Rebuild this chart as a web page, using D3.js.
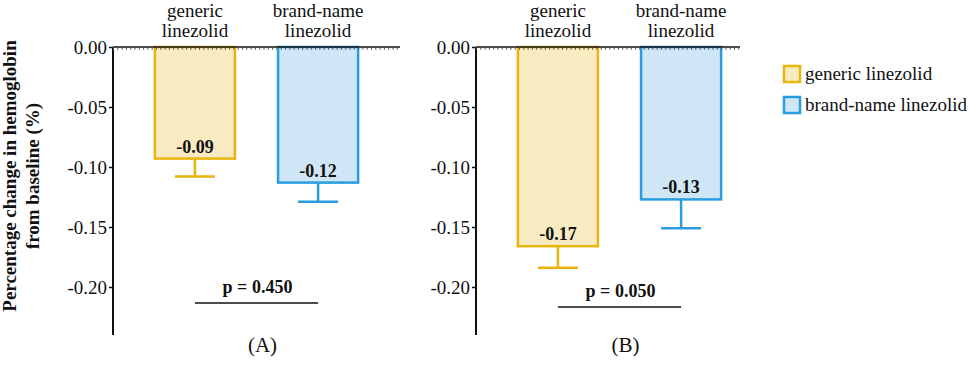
<!DOCTYPE html>
<html>
<head>
<meta charset="utf-8">
<script src="https://cdn.jsdelivr.net/npm/d3@7"></script>
<style>
    body { margin: 0; background: #fff; }
    svg { display: block; font-family: "Liberation Serif", "DejaVu Serif", serif; }
</style>
</head>
<body>
<div id="chart"></div>
<script>
// Data
const categories = ["generic linezolid", "brand-name linezolid"]
const catLines = [["generic", "linezolid"], ["brand-name", "linezolid"]]
const panels = ["(A)", "(B)"]
const meanA = [-0.093, -0.113]
const errA = [-0.108, -0.129]
const labelsA = ["-0.09", "-0.12"]
const meanB = [-0.166, -0.127]
const errB = [-0.184, -0.151]
const labelsB = ["-0.17", "-0.13"]
const pValues = ["p = 0.450", "p = 0.050"]
const yTicks = [0, -0.05, -0.10, -0.15, -0.20]

const strokes = ["#e8b40e", "#2a9de0"]
const fills = ["#f8ebc2", "#cfe6f6"]

// dimensions
const W = 969, H = 367
const topY = 47
const svg = d3.select("#chart").append("svg")
    .attr("width", W).attr("height", H)

const y = d3.scaleLinear().domain([0, -0.24]).range([topY, topY + 288])
const x = d3.scaleBand().domain(categories).range([0, 287])
    .paddingInner(0.35).paddingOuter(0.34)

function drawPanel(left, zeroLen, means, errs, labels, pText, pY, name) {
    const g = svg.append("g").attr("transform", "translate(" + left + ",0)")

    // bars
    categories.forEach(function(c, i) {
        const x0 = x(c), bw = x.bandwidth(), cx = x0 + bw / 2
        g.append("rect")
            .attr("x", x0).attr("y", y(0))
            .attr("width", bw).attr("height", y(means[i]) - y(0))
            .attr("fill", fills[i]).attr("stroke", strokes[i]).attr("stroke-width", 2.5)
        // error bar
        g.append("line")
            .attr("x1", cx).attr("x2", cx)
            .attr("y1", y(means[i])).attr("y2", y(errs[i]))
            .attr("stroke", strokes[i]).attr("stroke-width", 2.5)
        g.append("line")
            .attr("x1", cx - bw / 4).attr("x2", cx + bw / 4)
            .attr("y1", y(errs[i])).attr("y2", y(errs[i]))
            .attr("stroke", strokes[i]).attr("stroke-width", 2.5)
        // value label
        g.append("text")
            .attr("x", cx).attr("y", y(means[i]) - 6)
            .attr("text-anchor", "middle")
            .attr("font-size", 18).attr("font-weight", "bold")
            .attr("fill", "#111")
            .text(labels[i])
        // category label
        catLines[i].forEach(function(t, j) {
            g.append("text")
                .attr("x", cx).attr("y", 17 + j * 20)
                .attr("text-anchor", "middle")
                .attr("font-size", 19).attr("fill", "#111")
                .text(t)
        })
    })

    // y axis
    const ax = g.append("g")
        .call(d3.axisLeft(y).tickValues(yTicks).tickSize(4).tickPadding(2)
            .tickFormat(d3.format(".2f")))
    ax.select(".domain").attr("stroke", "#111").attr("stroke-width", 2)
        .attr("d", "M0," + y(0) + "V" + y(-0.24))
    ax.selectAll(".tick line").attr("stroke", "#111").attr("stroke-width", 1.5)
    ax.selectAll(".tick text")
        .attr("font-family", "Liberation Serif").attr("font-size", 19).attr("fill", "#111")
        .text(function(d) { return d3.format(".2f")(d).replace("−", "-") })

    // zero line with little ticks
    g.append("line")
        .attr("x1", 0).attr("x2", zeroLen).attr("y1", y(0)).attr("y2", y(0))
        .attr("stroke", "#111").attr("stroke-width", 1.5)
    g.append("line")
        .attr("x1", 0).attr("x2", zeroLen).attr("y1", y(0) + 1.5).attr("y2", y(0) + 1.5)
        .attr("stroke", "#555").attr("stroke-width", 2.5)
        .attr("stroke-dasharray", "1,3.3")

    // p value
    const x1 = x(categories[0]) + x.bandwidth() / 2
    const x2 = x(categories[1]) + x.bandwidth() / 2
    g.append("line")
        .attr("x1", x1).attr("x2", x2).attr("y1", pY).attr("y2", pY)
        .attr("stroke", "#111").attr("stroke-width", 1.5)
    g.append("text")
        .attr("x", (x1 + x2) / 2 + 1).attr("y", pY - 10)
        .attr("text-anchor", "middle")
        .attr("font-size", 18).attr("font-weight", "bold").attr("fill", "#111")
        .text(pText)

    // panel name
    g.append("text")
        .attr("x", (x1 + x2) / 2 + 6).attr("y", 352)
        .attr("text-anchor", "middle")
        .attr("font-size", 21).attr("fill", "#111")
        .text(name)
}

drawPanel(113, 287, meanA, errA, labelsA, pValues[0], 303, panels[0])
drawPanel(476, 264, meanB, errB, labelsB, pValues[1], 307, panels[1])

// Y label
const yl = svg.append("text")
    .attr("transform", "translate(16,176) rotate(-90)")
    .attr("text-anchor", "middle")
    .attr("font-size", 19).attr("font-weight", "bold").attr("fill", "#111")
yl.append("tspan").attr("x", 0).attr("y", 0).text("Percentage change in hemoglobin")
yl.append("tspan").attr("x", 0).attr("y", 23).text("from baseline (%)")

// Legend
const legend = svg.append("g").attr("transform", "translate(783,65)")
categories.forEach(function(c, i) {
    legend.append("rect")
        .attr("x", 1).attr("y", i * 31 + 1)
        .attr("width", 16).attr("height", 16)
        .attr("fill", fills[i]).attr("stroke", strokes[i]).attr("stroke-width", 2.5)
    legend.append("text")
        .attr("x", 22).attr("y", i * 31 + 15)
        .attr("font-size", 19).attr("fill", "#111")
        .text(c)
})
</script>
</body>
</html>
